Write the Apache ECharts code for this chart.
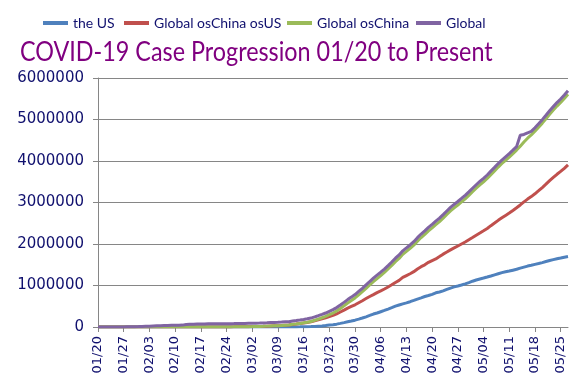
<!DOCTYPE html>
<html>
<head>
<meta charset="utf-8">
<script src="https://cdn.jsdelivr.net/npm/echarts@6/dist/echarts.min.js"></script>
<style>html,body{margin:0;padding:0;background:#fff}#c{width:580px;height:389px}</style>
</head>
<body>
<div id="c"></div>
<script>
const dates = ['01/20','01/21','01/22','01/23','01/24','01/25','01/26','01/27','01/28','01/29','01/30','01/31',
'02/01','02/02','02/03','02/04','02/05','02/06','02/07','02/08','02/09','02/10','02/11','02/12','02/13','02/14','02/15','02/16','02/17','02/18','02/19','02/20','02/21','02/22','02/23','02/24','02/25','02/26','02/27','02/28','02/29',
'03/01','03/02','03/03','03/04','03/05','03/06','03/07','03/08','03/09','03/10','03/11','03/12','03/13','03/14','03/15','03/16','03/17','03/18','03/19','03/20','03/21','03/22','03/23','03/24','03/25','03/26','03/27','03/28','03/29','03/30','03/31',
'04/01','04/02','04/03','04/04','04/05','04/06','04/07','04/08','04/09','04/10','04/11','04/12','04/13','04/14','04/15','04/16','04/17','04/18','04/19','04/20','04/21','04/22','04/23','04/24','04/25','04/26','04/27','04/28','04/29','04/30',
'05/01','05/02','05/03','05/04','05/05','05/06','05/07','05/08','05/09','05/10','05/11','05/12','05/13','05/14','05/15','05/16','05/17','05/18','05/19','05/20','05/21','05/22','05/23','05/24','05/25','05/26','05/27'];

const seriesNames = ['the US','Global osChina osUS','Global osChina','Global'];

const usCases = [0,1,1,1,2,2,5,5,5,6,6,8,8,8,11,11,12,12,12,12,12,12,13,13,14,14,14,14,14,14,14,14,16,16,16,16,16,16,17,17,25,32,55,74,107,184,237,403,519,594,782,1147,1586,2219,2978,3212,4679,6512,9169,13663,20030,26025,34944,46096,56714,68841,86662,105253,124665,143025,164620,189618,216722,245540,278458,312245,337573,368196,398809,432132,466033,501560,529951,557571,582594,609516,639664,671331,702164,735086,759687,787752,825041,842629,869170,905358,938154,965785,988197,1012582,1039909,1069424,1103461,1132539,1158040,1180375,1204351,1229331,1257023,1283929,1309550,1329260,1347881,1369376,1390406,1417774,1442824,1467820,1486757,1508308,1528568,1551853,1577147,1600937,1622670,1643499,1662302,1681418,1699176];

const globalOsChinaOsUS = [4,3,6,10,19,26,38,45,64,73,87,117,139,149,160,180,191,203,273,303,319,403,412,457,472,537,625,708,822,927,1019,1121,1275,1585,1944,2289,2629,3194,4119,5179,6632,8407,10118,12509,14631,17165,20873,24663,28493,32128,36913,43797,45825,62029,72142,83234,95819,109576,124639,147889,170886,197194,220576,250641,279740,317151,361147,406141,454042,494970,535547,585590,633522,685185,734948,781272,829579,870620,914949,965261,1016362,1073025,1122685,1194016,1239031,1283369,1333034,1397703,1454266,1498885,1557886,1600690,1640229,1697507,1755349,1806472,1859077,1905336,1951607,2000707,2048434,2103466,2156357,2211086,2264725,2318714,2374370,2442035,2504719,2570145,2630449,2688428,2745603,2808347,2872583,2940351,3015479,3082194,3142800,3209572,3284861,3360556,3441196,3525796,3603597,3680012,3748656,3824106,3908508];

const globalOsChina = [4,4,7,11,21,28,43,50,69,79,93,125,147,157,171,191,203,215,285,315,331,415,425,470,486,551,639,722,836,941,1033,1135,1291,1601,1960,2305,2645,3210,4136,5196,6657,8439,10173,12583,14738,17349,21110,25066,29012,32722,37695,44944,47411,64248,75120,86446,100498,116088,133808,161552,190916,223219,255520,296737,336454,385992,447809,511394,578707,637995,700167,775208,850244,930725,1013406,1093517,1167152,1238816,1313758,1397393,1482395,1574585,1652636,1751587,1821625,1892885,1972698,2069034,2156430,2233971,2317573,2388442,2465270,2540136,2624519,2711830,2797231,2871121,2939804,3013289,3088343,3172890,3259818,3343625,3422765,3499089,3578721,3671366,3761742,3854074,3939999,4017688,4093484,4177723,4262989,4358125,4458303,4550014,4629557,4717880,4813429,4912409,5018343,5126733,5226267,5323511,5410958,5505524,5607684];

const globalCases = [282,314,555,654,941,1434,2118,2927,5578,6166,8234,9927,12038,16787,19887,23898,27643,30802,34395,37129,40160,42769,44811,45229,60381,66909,69052,71235,73270,75152,75652,76212,76841,78602,78982,79546,80399,81376,82736,84124,86013,88371,90309,92844,95124,97886,101800,105836,109835,113582,118582,125865,128343,145193,156097,167449,181531,197146,214910,242708,272166,304524,336955,378235,418045,467653,529591,593291,660706,720117,782365,857487,932605,1013157,1095917,1176060,1249754,1321481,1396476,1480202,1565278,1657526,1735650,1834721,1904838,1976191,2056054,2152437,2240190,2317758,2401378,2472259,2549123,2624004,2708403,2795729,2881140,2955033,3023722,3097229,3172287,3256846,3343777,3427584,3506729,3583055,3662691,3755341,3845718,3938064,4024009,4101699,4177502,4261747,4347018,4620000,4640000,4680000,4713620,4801943,4897492,4996472,5102424,5210817,5310362,5407613,5495061,5589626,5691790];

const yTicks = {min: 0, max: 6000000, interval: 1000000};

const colors = ['#4F81BD','#C0504D','#9BBB59','#8064A2'];
const navy = '#10106e';
const gridGray = '#868686';
const allSeries = [usCases, globalOsChinaOsUS, globalOsChina, globalCases];
const legendLeft = [43, 124, 287, 416];

const chart = echarts.init(document.getElementById('c'), null, {renderer: 'canvas'});
chart.setOption({
  animation: false,
  backgroundColor: '#fff',
  graphic: [{
    type: 'text', left: 20, top: 39, scaleX: 0.865, scaleY: 1,
    style: {text: 'COVID-19 Case Progression 01/20 to Present', fill: '#800080', font: '27px Lato'}
  }],
  legend: seriesNames.map((n, i) => ({
    data: [n],
    left: legendLeft[i], top: 16, padding: 0,
    icon: 'rect', itemWidth: 25, itemHeight: 4,
    textStyle: {color: navy, fontSize: 14, fontFamily: 'Lato'}
  })),
  grid: {left: 98, right: 12, top: 78, bottom: 62, containLabel: false},
  xAxis: {
    type: 'category', data: dates, boundaryGap: false,
    axisLine: {lineStyle: {color: gridGray, width: 1}},
    axisTick: {show: true, interval: 6, length: 5, lineStyle: {color: gridGray}},
    axisLabel: {interval: 6, rotate: 90, fontSize: 13, fontFamily: 'DejaVu Sans', color: navy, margin: 9},
    splitLine: {show: false}
  },
  yAxis: {
    type: 'value', min: yTicks.min, max: yTicks.max, interval: yTicks.interval,
    axisLine: {show: true, lineStyle: {color: gridGray, width: 1}},
    axisTick: {show: true, length: 5, lineStyle: {color: gridGray}},
    axisLabel: {fontSize: 15, fontFamily: 'DejaVu Sans', color: navy, margin: 14, formatter: v => String(v)},
    splitLine: {show: true, lineStyle: {color: gridGray, width: 1}}
  },
  series: seriesNames.map((n, i) => ({
    name: n, type: 'line', data: allSeries[i], showSymbol: false, symbol: 'none',
    lineStyle: {width: 3, color: colors[i]}, itemStyle: {color: colors[i]}
  }))
});
</script>
</body>
</html>
